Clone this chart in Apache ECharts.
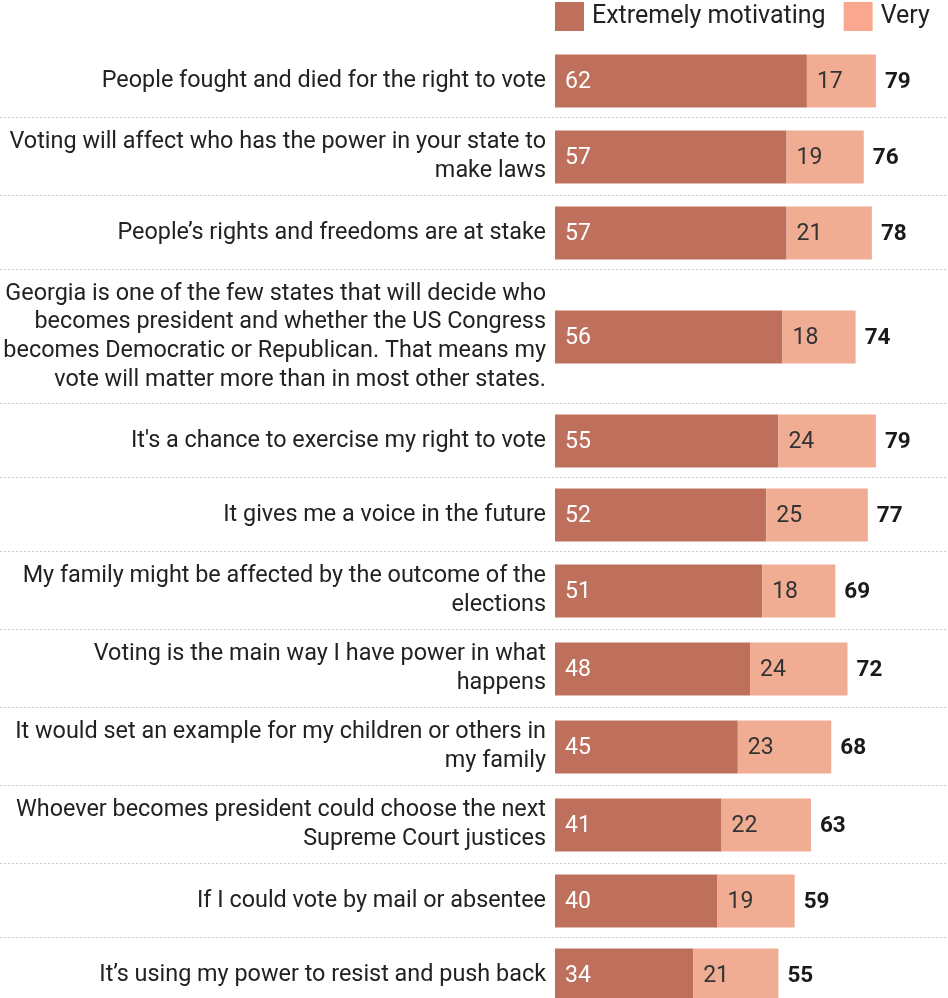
<!DOCTYPE html>
<html><head><meta charset="utf-8">
<script src="https://cdn.jsdelivr.net/npm/echarts@6/dist/echarts.min.js"></script>
<style>html,body{margin:0;padding:0;background:#fff}#c{width:948px;height:998px}</style>
</head><body><div id="c"></div>
<script>
const categories = [
  'People fought and died for the right to vote',
  'Voting will affect who has the power in your state to\nmake laws',
  'People\u2019s rights and freedoms are at stake',
  'Georgia is one of the few states that will decide who\nbecomes president and whether the US Congress\nbecomes Democratic or Republican. That means my\nvote will matter more than in most other states.',
  "It's a chance to exercise my right to vote",
  'It gives me a voice in the future',
  'My family might be affected by the outcome of the\nelections',
  'Voting is the main way I have power in what\nhappens',
  'It would set an example for my children or others in\nmy family',
  'Whoever becomes president could choose the next\nSupreme Court justices',
  'If I could vote by mail or absentee',
  'It\u2019s using my power to resist and push back'
];
const extremely = [62, 57, 57, 56, 55, 52, 51, 48, 45, 41, 40, 34];
const very = [17, 19, 21, 18, 24, 25, 18, 24, 23, 22, 19, 21];
const totals = [79, 76, 78, 74, 79, 77, 69, 72, 68, 63, 59, 55];
const seriesNames = ['Extremely motivating', 'Very'];

const colDark = '#BE705D', colLight = '#F0AD93', colLegendLight = '#F9A88F';
const font = 'Roboto, "Noto Sans", sans-serif';
const H = 998;

// layout
const top0 = 44;
const rows = [];
let y = top0;
categories.forEach(c => {
  const lines = c.split('\n').length;
  const h = Math.max(74, lines * 28 + 22);
  rows.push({ top: y, height: h });
  y += h;
});

const grid = [], xAxis = [], yAxis = [], series = [], graphic = [];
rows.forEach((r, i) => {
  const center = r.top + r.height / 2;
  const half = Math.min(r.height / 2, H - center);
  grid.push({ left: 555, width: 390, top: center - half, height: 2 * half });
  xAxis.push({ type: 'value', gridIndex: i, min: 0, max: 96, show: false });
  yAxis.push({
    type: 'category', gridIndex: i, data: [categories[i]],
    axisLine: { show: false }, axisTick: { show: false }, splitLine: { show: false },
    axisLabel: { fontFamily: font, fontSize: 23.4, lineHeight: 28.7, color: '#222', margin: 9, align: 'right' }
  });
  series.push({
    type: 'bar', name: seriesNames[0], xAxisIndex: i, yAxisIndex: i, stack: 's' + i, clip: false,
    data: [extremely[i]], barWidth: 53, barGap: '-100%', itemStyle: { color: colDark },
    label: { show: true, position: 'insideLeft', distance: 10, offset: [0, 1], color: '#fff', fontFamily: font, fontSize: 23 }
  });
  series.push({
    type: 'bar', name: seriesNames[1], xAxisIndex: i, yAxisIndex: i, stack: 's' + i, clip: false,
    data: [very[i]], barWidth: 53, barGap: '-100%', itemStyle: { color: colLight },
    label: { show: true, position: 'insideLeft', distance: 10, offset: [0, 1], color: '#333', fontFamily: font, fontSize: 23 }
  });
  series.push({
    type: 'bar', name: 'Total', xAxisIndex: i, yAxisIndex: i, silent: true, clip: false,
    data: [totals[i]], barWidth: 53, barGap: '-100%', itemStyle: { color: 'rgba(0,0,0,0)' },
    label: { show: true, position: 'right', distance: 9, offset: [0, 1], color: '#1a1a1a', fontWeight: 'bold', fontFamily: font, fontSize: 22.5 }
  });
  if (i < rows.length - 1) {
    const ly = r.top + r.height - 0.5;
    graphic.push({ type: 'line', silent: true, shape: { x1: 0, y1: ly, x2: 948, y2: ly },
      style: { stroke: '#c8c8c8', lineWidth: 1, lineDash: [2, 2] } });
  }
});

const chart = echarts.init(document.getElementById('c'), null, { renderer: 'canvas' });
chart.setOption({
  backgroundColor: '#fff',
  animation: false,
  legend: {
    data: [{ name: seriesNames[0], itemStyle: { color: colDark } }, { name: seriesNames[1], itemStyle: { color: colLegendLight } }],
    left: 555, top: 2, padding: 0, itemWidth: 29, itemHeight: 29, itemGap: 18, icon: 'rect', selectedMode: false,
    textStyle: { fontFamily: font, fontSize: 25, color: '#222', padding: [0, 0, 0, 3] }
  },
  grid, xAxis, yAxis, series, graphic
});
</script></body></html>
